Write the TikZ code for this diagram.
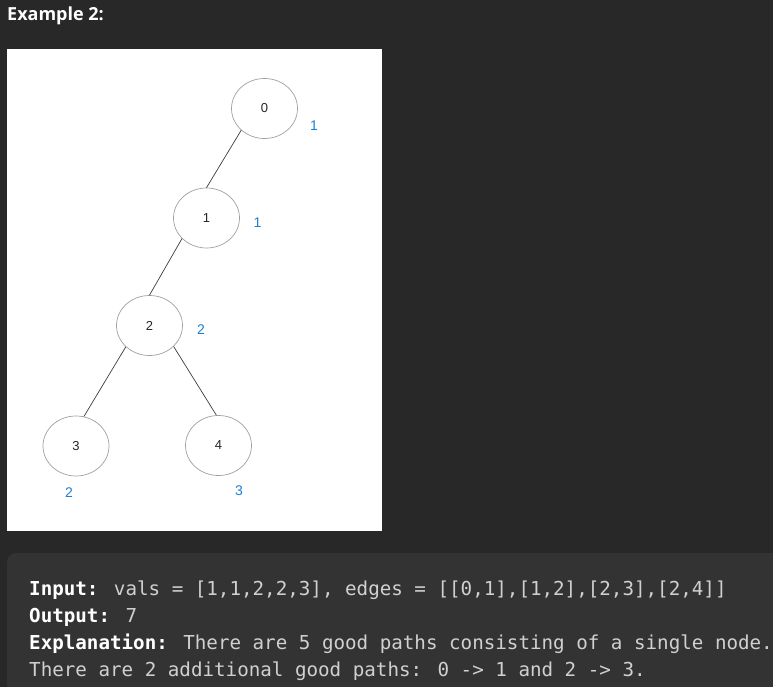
\documentclass[tikz,border=0pt]{standalone}
\usepackage{fontspec}
\setmainfont{Liberation Sans}
\newfontfamily\titlefont{Open Sans}
\newfontfamily\codefont{DejaVu Sans Mono}
\usetikzlibrary{shapes.geometric}
\definecolor{bgdark}{RGB}{40,40,40}
\definecolor{codebg}{RGB}{51,51,51}
\definecolor{valblue}{RGB}{28,128,210}
\definecolor{ringgray}{RGB}{160,160,160}
\definecolor{edgegray}{RGB}{60,60,60}
\definecolor{codetext}{RGB}{208,208,208}
\tikzset{
  treenode/.style={draw=ringgray, line width=0.7pt, ellipse, minimum width=66pt, minimum height=60pt, inner sep=0pt, text=black!85, font=\fontsize{13}{15}\selectfont},
  vallabel/.style={text=valblue, inner sep=0pt, font=\fontsize{14}{16}\selectfont},
  treeedge/.style={draw=edgegray, line width=0.7pt},
  codeline/.style={anchor=base west, inner sep=0pt, text=codetext, font=\codefont\fontsize{19.2}{22}\selectfont}
}
\begin{document}
\begin{tikzpicture}[x=1pt,y=-1pt]
\useasboundingbox (0,0) rectangle (773,687);
\fill[bgdark] (0,0) rectangle (773,687);
\node[anchor=base west, inner sep=0pt, text=white, font=\titlefont\bfseries\fontsize{18}{21}\selectfont] (title) at (7,20.5) {Example 2:};
\fill[white] (7,49) rectangle (382,531);
\begin{scope}
\clip (0,0) rectangle (773,687);
\fill[codebg, rounded corners=9pt] (7,553) rectangle (800,720);
\end{scope}
% tree
\node[treenode] (n0) at (264.5,108.5) {0};
\node[treenode] (n1) at (206.5,218) {1};
\node[treenode] (n2) at (149.5,325.5) {2};
\node[treenode] (n3) at (76,446) {3};
\node[treenode] (n4) at (218.5,445.5) {4};
\draw[treeedge] (n0.223) -- (n1.90);
\draw[treeedge] (n1.220) -- (n2.90);
\draw[treeedge] (n2.222) -- (n3.75);
\draw[treeedge] (n2.319) -- (n4.94);
\node[vallabel] (v0) at (314,126) {1};
\node[vallabel] (v1) at (257.5,223) {1};
\node[vallabel] (v2) at (201,330) {2};
\node[vallabel] (v3) at (69,493) {2};
\node[vallabel] (v4) at (239,491) {3};
% code
\node[codeline] (c1) at (29,595) {\textcolor{white}{\bfseries Input:} vals = [1,1,2,2,3], edges = [[0,1],[1,2],[2,3],[2,4]]};
\node[codeline] (c2) at (29,622.3) {\textcolor{white}{\bfseries Output:} 7};
\node[codeline] (c3) at (29,649.6) {\textcolor{white}{\bfseries Explanation:} There are 5 good paths consisting of a single node.};
\node[codeline] (c4) at (29,676.9) {There are 2 additional good paths: 0 -> 1 and 2 -> 3.};
\end{tikzpicture}
\end{document}
